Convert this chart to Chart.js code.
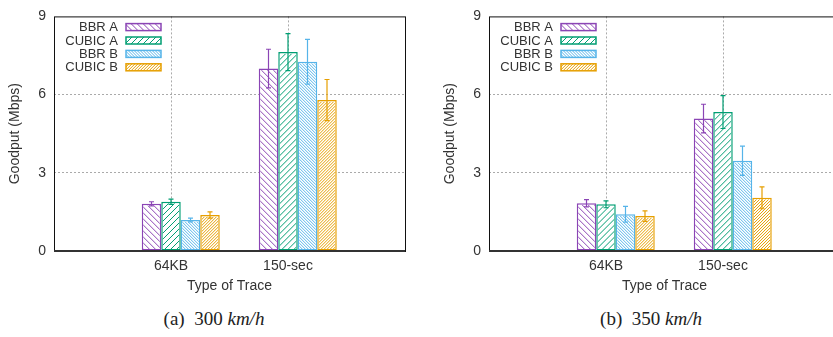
<!DOCTYPE html>
<html>
<head>
<meta charset="utf-8">
<script src="https://cdn.jsdelivr.net/npm/chart.js@4.4.1/dist/chart.umd.min.js"></script>
<style>
    body { margin: 0; width: 833px; height: 337px; overflow: hidden; background: #fff; position: relative; }
    .panel { position: absolute; top: 0; width: 420px; height: 300px; }
    #panel-a { left: 0; }
    #panel-b { left: 435px; }
    .caption { position: absolute; top: 308px; width: 200px; text-align: center;
               font-family: 'Liberation Serif', 'DejaVu Serif', serif; font-size: 19px; color: #222; white-space: pre; }
    #cap-a { left: 114px; }
    #cap-b { left: 551px; }
</style>
</head>
<body>
<div class="panel" id="panel-a"><canvas id="chart-a"></canvas></div>
<div class="panel" id="panel-b"><canvas id="chart-b"></canvas></div>
<div class="caption" id="cap-a">(a)  300 <i>km/h</i></div>
<div class="caption" id="cap-b">(b)  350 <i>km/h</i></div>
<script>
// Data (goodput in Mbps, for 64KB and 150-sec traces)
const categories = ['', '64KB', '150-sec', ''];
const seriesNames = ['BBR A', 'CUBIC A', 'BBR B', 'CUBIC B'];
const yTicks = [0, 3, 6, 9];

// 300 km/h
const bbrA300 = [1.81, 7.00];
const cubicA300 = [1.89, 7.63];
const bbrB300 = [1.19, 7.26];
const cubicB300 = [1.38, 5.79];
const bbrA300Err = [0.08, 0.74];
const cubicA300Err = [0.10, 0.71];
const bbrB300Err = [0.07, 0.86];
const cubicB300Err = [0.12, 0.79];

// 350 km/h
const bbrA350 = [1.83, 5.08];
const cubicA350 = [1.79, 5.33];
const bbrB350 = [1.41, 3.46];
const cubicB350 = [1.34, 2.04];
const bbrA350Err = [0.14, 0.55];
const cubicA350Err = [0.13, 0.63];
const bbrB350Err = [0.30, 0.56];
const cubicB350Err = [0.20, 0.42];

// Styles
const COLORS = ['#8b45b5', '#009e73', '#56b4e9', '#e69f00'];
const HATCH = [
    { gap: 6, dir: 'back' },
    { gap: 6, dir: 'fwd' },
    { gap: 3, dir: 'back' },
    { gap: 3, dir: 'fwd' }
];
const FONT = "'Liberation Sans', Arial, sans-serif";
const TEXT = '#333';

Chart.defaults.font.family = FONT;
Chart.defaults.color = TEXT;

// pad with empty edge categories
const pad = arr => [null, ...arr, null];

// diagonal hatch lines clipped to a rectangle
function hatchRect(ctx, x0, y0, x1, y1, color, gap, dir) {
    const w = x1 - x0, h = y1 - y0;
    if (w <= 0 || h <= 0) return;
    ctx.save();
    ctx.beginPath();
    ctx.rect(x0, y0, w, h);
    ctx.clip();
    ctx.strokeStyle = color;
    ctx.lineWidth = 1;
    ctx.beginPath();
    for (let k = -h; k <= w; k += gap) {
        if (dir === 'fwd') {
            ctx.moveTo(x0 + k, y1);
            ctx.lineTo(x0 + k + h, y0);
        } else {
            ctx.moveTo(x0 + k, y0);
            ctx.lineTo(x0 + k + h, y1);
        }
    }
    ctx.stroke();
    ctx.restore();
}

const hatchPlugin = {
    id: 'hatch',
    afterDatasetDraw(chart, args) {
        const ds = chart.data.datasets[args.index];
        if (!ds.hatch) return;
        const { ctx } = chart;
        args.meta.data.forEach((bar, j) => {
            if (ds.data[j] == null) return;
            const { x, y, base, width } = bar.getProps(['x', 'y', 'base', 'width'], true);
            const b = ds.borderWidth;
            hatchRect(ctx, x - width / 2 + b, y + b, x + width / 2 - b, base - b,
                ds.borderColor, ds.hatch.gap, ds.hatch.dir);
        });
    }
};

// frame around plot area
const framePlugin = {
    id: 'frame',
    afterDatasetsDraw(chart) {
        const { ctx, chartArea: a } = chart;
        ctx.save();
        ctx.strokeStyle = '#111';
        ctx.lineWidth = 1;
        ctx.strokeRect(a.left + 0.5, a.top + 0.5, a.right - a.left, a.bottom - a.top);
        ctx.strokeStyle = '#333';
        ctx.lineWidth = 2;
        ctx.beginPath();
        ctx.moveTo(a.left, a.bottom);
        ctx.lineTo(a.right, a.bottom);
        ctx.stroke();
        ctx.restore();
    }
};

// error bars
const errorPlugin = {
    id: 'errorBars',
    afterDatasetsDraw(chart) {
        const { ctx } = chart;
        const yScale = chart.scales.y;
        ctx.save();
        chart.data.datasets.forEach((ds, di) => {
            if (!ds.errors) return;
            const meta = chart.getDatasetMeta(di);
            meta.data.forEach((bar, j) => {
                const v = ds.data[j];
                const e = ds.errors[j];
                if (v == null || e == null) return;
                const top = yScale.getPixelForValue(v + e);
                const bot = yScale.getPixelForValue(v - e);
                ctx.strokeStyle = ds.borderColor;
                ctx.lineWidth = 1.2;
                ctx.beginPath();
                ctx.moveTo(bar.x, top);
                ctx.lineTo(bar.x, bot);
                ctx.moveTo(bar.x - 2.5, top);
                ctx.lineTo(bar.x + 2.5, top);
                ctx.moveTo(bar.x - 2.5, bot);
                ctx.lineTo(bar.x + 2.5, bot);
                ctx.stroke();
            });
        });
        ctx.restore();
    }
};

// legend: text on the left, hatched key on the right
const keyPlugin = {
    id: 'keyLegend',
    afterDraw(chart) {
        const { ctx, chartArea: a } = chart;
        ctx.save();
        ctx.font = '13px ' + FONT;
        ctx.textAlign = 'right';
        ctx.textBaseline = 'middle';
        chart.data.datasets.forEach((ds, di) => {
            if (!ds.label) return;
            const i = di - 1;
            const y = a.top + 10.7 + i * 13.4;
            ctx.fillStyle = TEXT;
            ctx.fillText(ds.label, a.left + 64, y + 0.5);
            const bx = a.left + 72;
            ctx.fillStyle = '#fff';
            ctx.fillRect(bx, y - 3.5, 35, 7);
            hatchRect(ctx, bx, y - 3.5, bx + 35, y + 3.5, ds.borderColor, ds.hatch.gap, ds.hatch.dir);
            ctx.strokeStyle = ds.borderColor;
            ctx.lineWidth = 1.5;
            ctx.strokeRect(bx, y - 3.5, 35, 7);
        });
        ctx.restore();
    }
};

function buildChart(canvasId, series, errors) {
    const datasets = [
        // empty slot, gives the cluster its offset from the tic
        { label: '', data: pad([null, null]), backgroundColor: 'transparent', borderWidth: 0 }
    ];
    series.forEach((vals, i) => {
        datasets.push({
            label: seriesNames[i],
            data: pad(vals),
            errors: pad(errors[i]),
            hatch: HATCH[i],
            backgroundColor: '#fff',
            borderColor: COLORS[i],
            borderWidth: 1.5,
            borderSkipped: false
        });
    });

    const gridColor = (edges) => (c) => edges.includes(c.index) ? 'transparent' : '#aaa';

    return new Chart(document.getElementById(canvasId), {
        type: 'bar',
        data: { labels: categories, datasets },
        plugins: [hatchPlugin, errorPlugin, framePlugin, keyPlugin],
        options: {
            responsive: true,
            maintainAspectRatio: false,
            animation: false,
            layout: { padding: { left: 0, right: 15, top: 11, bottom: 0 } },
            datasets: { bar: { categoryPercentage: 0.8333, barPercentage: 1 } },
            plugins: { legend: { display: false }, tooltip: { enabled: false } },
            scales: {
                x: {
                    offset: false,
                    grid: { offset: false, color: gridColor([0, categories.length - 1]), lineWidth: 1, drawTicks: false },
                    border: { display: false, dash: [2, 2] },
                    ticks: { padding: 7, font: { size: 14 }, color: TEXT, maxRotation: 0, autoSkip: false },
                    title: { display: true, text: 'Type of Trace', font: { size: 14 }, color: TEXT, padding: { top: 4, bottom: 5 } },
                    afterFit: s => { s.height = 49; }
                },
                y: {
                    min: yTicks[0],
                    max: yTicks[yTicks.length - 1],
                    afterBuildTicks: s => { s.ticks = yTicks.map(v => ({ value: v })); },
                    grid: { color: gridColor([0, yTicks.length - 1]), lineWidth: 1, drawTicks: false },
                    border: { display: false, dash: [2, 2] },
                    ticks: { padding: 8, font: { size: 14 }, color: TEXT },
                    title: { display: true, text: 'Goodput (Mbps)', font: { size: 14 }, color: TEXT, padding: { top: 7, bottom: 4 } },
                    afterFit: s => { s.width = 54; }
                }
            }
        }
    });
}

buildChart('chart-a',
    [bbrA300, cubicA300, bbrB300, cubicB300],
    [bbrA300Err, cubicA300Err, bbrB300Err, cubicB300Err]);
buildChart('chart-b',
    [bbrA350, cubicA350, bbrB350, cubicB350],
    [bbrA350Err, cubicA350Err, bbrB350Err, cubicB350Err]);
</script>
</body>
</html>
